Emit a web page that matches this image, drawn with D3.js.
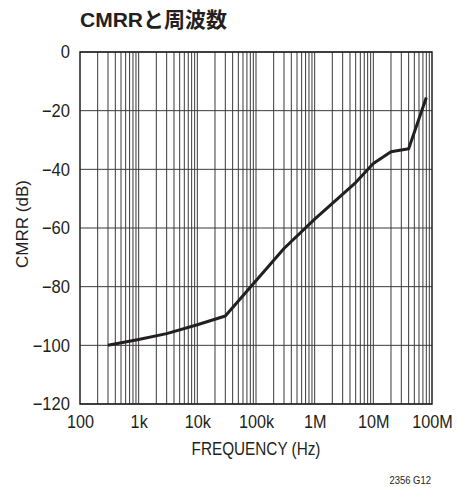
<!DOCTYPE html>
<html>
<head>
<meta charset="utf-8">
<script src="https://cdn.jsdelivr.net/npm/d3@7"></script>
<style>
  html, body { margin: 0; padding: 0; background: #fff; overflow: hidden; }
  svg { display: block; }
  text { font-family: "Liberation Sans", Arial, "Noto Sans CJK JP", sans-serif; fill: #231f20; }
</style>
</head>
<body>
<div id="main"></div>
<script>
// CMRR vs frequency
var freqs = [300, 1e3, 3e3, 10e3, 30e3, 300e3, 1e6, 5e6, 10e6, 20e6, 40e6, 80e6];
var cmrr  = [-100, -98, -96, -93, -90, -67, -57, -44.5, -38, -34, -33, -15.5];

var xTickValues = [1e2, 1e3, 1e4, 1e5, 1e6, 1e7, 1e8];
var xTickLabels = ["100", "1k", "10k", "100k", "1M", "10M", "100M"];
var yTickValues = [0, -20, -40, -60, -80, -100, -120];

var outerWidth = 457, outerHeight = 487;
var marginTop = 52, marginLeft = 80, marginRight = 25, marginBottom = 83;
var innerWidth = outerWidth - marginLeft - marginRight;
var innerHeight = outerHeight - marginTop - marginBottom;

var xScale = d3.scaleLog().domain([1e2, 1e8]).range([0, innerWidth]);
var yScale = d3.scaleLinear().domain([-120, 0]).range([innerHeight, 0]);

// squeeze text horizontally, the original uses a condensed face
function condense(sel, k) {
    sel.each(function () {
        var w = this.getComputedTextLength();
        d3.select(this).attr("textLength", w * k).attr("lengthAdjust", "spacingAndGlyphs");
    });
}

var svg = d3.select("#main")
    .append("svg")
    .attr("width", outerWidth)
    .attr("height", outerHeight);

svg.append("text")
    .attr("x", 80)
    .attr("y", 27)
    .style("font-size", "21px")
    .style("font-weight", "bold")
    .text("CMRRと周波数");

var g = svg.append("g")
    .attr("transform", "translate(" + marginLeft + "," + marginTop + ")");

// vertical grid: every 1..9 per decade
var minorTicks = [];
for (var e = 2; e < 8; e++) {
    for (var m = 1; m < 10; m++) minorTicks.push(m * Math.pow(10, e));
}
g.append("g").selectAll("line")
    .data(minorTicks.slice(1))
    .enter().append("line")
    .attr("x1", d => xScale(d)).attr("x2", d => xScale(d))
    .attr("y1", 0).attr("y2", innerHeight)
    .attr("stroke", "#3a3a3a")
    .attr("stroke-width", 1);

g.append("g").selectAll("line")
    .data(yTickValues)
    .enter().append("line")
    .attr("x1", 0).attr("x2", innerWidth)
    .attr("y1", d => yScale(d)).attr("y2", d => yScale(d))
    .attr("stroke", "#3a3a3a")
    .attr("stroke-width", 1);

g.append("rect")
    .attr("width", innerWidth)
    .attr("height", innerHeight)
    .attr("fill", "none")
    .attr("stroke", "#231f20")
    .attr("stroke-width", 1.5);

var yAxis = d3.axisLeft(yScale).tickValues(yTickValues).tickSize(0).tickPadding(10)
    .tickFormat(d => d < 0 ? "\u2212" + Math.abs(d) : d);
var yAxisG = g.append("g").attr("font-family", null).call(yAxis);
yAxisG.select(".domain").remove();
yAxisG.selectAll("text").style("font-size", "18px").call(condense, 0.92);

var xAxis = d3.axisBottom(xScale).tickValues(xTickValues).tickSize(0).tickPadding(11)
    .tickFormat((d, i) => xTickLabels[i]);
var xAxisG = g.append("g").attr("transform", "translate(0," + innerHeight + ")").call(xAxis);
xAxisG.select(".domain").remove();
xAxisG.selectAll("text").style("font-size", "18px").call(condense, 0.9);
xAxisG.attr("font-family", null);
yAxisG.attr("font-family", null);

g.append("text")
    .attr("text-anchor", "middle")
    .attr("x", innerWidth / 2)
    .attr("y", innerHeight + 51)
    .style("font-size", "18px")
    .text("FREQUENCY (Hz)")
    .call(condense, 0.85);

g.append("text")
    .attr("text-anchor", "middle")
    .attr("transform", "translate(-52," + (innerHeight / 2 - 4) + ") rotate(-90)")
    .style("font-size", "17px")
    .text("CMRR (dB)");

svg.append("text")
    .attr("text-anchor", "end")
    .attr("x", 431)
    .attr("y", 484)
    .style("font-size", "11px")
    .text("2356 G12")
    .call(condense, 0.86);

var line = d3.line()
    .x((d, i) => xScale(freqs[i]))
    .y(d => yScale(d));

g.append("path")
    .datum(cmrr)
    .attr("d", line)
    .attr("fill", "none")
    .attr("stroke", "#231f20")
    .attr("stroke-width", 3)
    .attr("stroke-linejoin", "round");
</script>
</body>
</html>
